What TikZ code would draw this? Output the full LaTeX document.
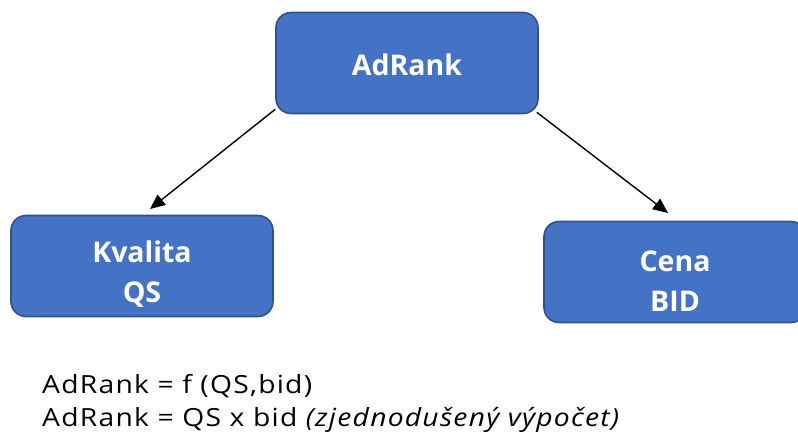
\documentclass[tikz,border=0pt]{standalone}
\usepackage{fontspec}
\setmainfont{Open Sans}
\newfontfamily\formfont[FakeStretch=1.13, LetterSpace=5]{Open Sans}
\usetikzlibrary{arrows.meta}
\definecolor{boxfill}{HTML}{4472C4}
\definecolor{boxline}{HTML}{2F528F}
\newcommand{\lowstrut}[1]{\rule{0pt}{#1}}
\tikzset{
  box/.style={draw=boxline, line width=1.6pt, fill=boxfill, rounded corners=15pt,
    text=white, font=\fontsize{28.5}{40}\selectfont\bfseries, align=center,
    minimum width=262pt, minimum height=101pt, inner sep=0pt},
  conn/.style={-{Triangle[length=15pt,width=13pt]}, line width=1.4pt, black},
  formula/.style={anchor=base west, font=\formfont\fontsize{25}{30}\selectfont, inner sep=0pt}
}
\begin{document}
\begin{tikzpicture}[x=1pt,y=-1pt]
\useasboundingbox (0,0) rectangle (798,432);
\node[box] (ad) at (407,63) {\lowstrut{26pt}AdRank};
\node[box] (kv) at (142,266) {\lowstrut{38pt}Kvalita\\QS};
\node[box] (ce) at (675,272) {\lowstrut{38pt}Cena\\BID};
\coordinate (kvt) at (150,209);
\coordinate (cet) at (668,213);
\draw[conn] (ad.south west) ++(0,-5) -- (kvt);
\draw[conn] (ad.south east) ++(-2,-2) -- (cet);
\node[formula] (f1) at (42,393) {AdRank = f (QS,bid)};
\node[formula] (f2) at (42,426) {AdRank = QS x bid \textit{(zjednodušený výpočet)}};
\end{tikzpicture}
\end{document}
